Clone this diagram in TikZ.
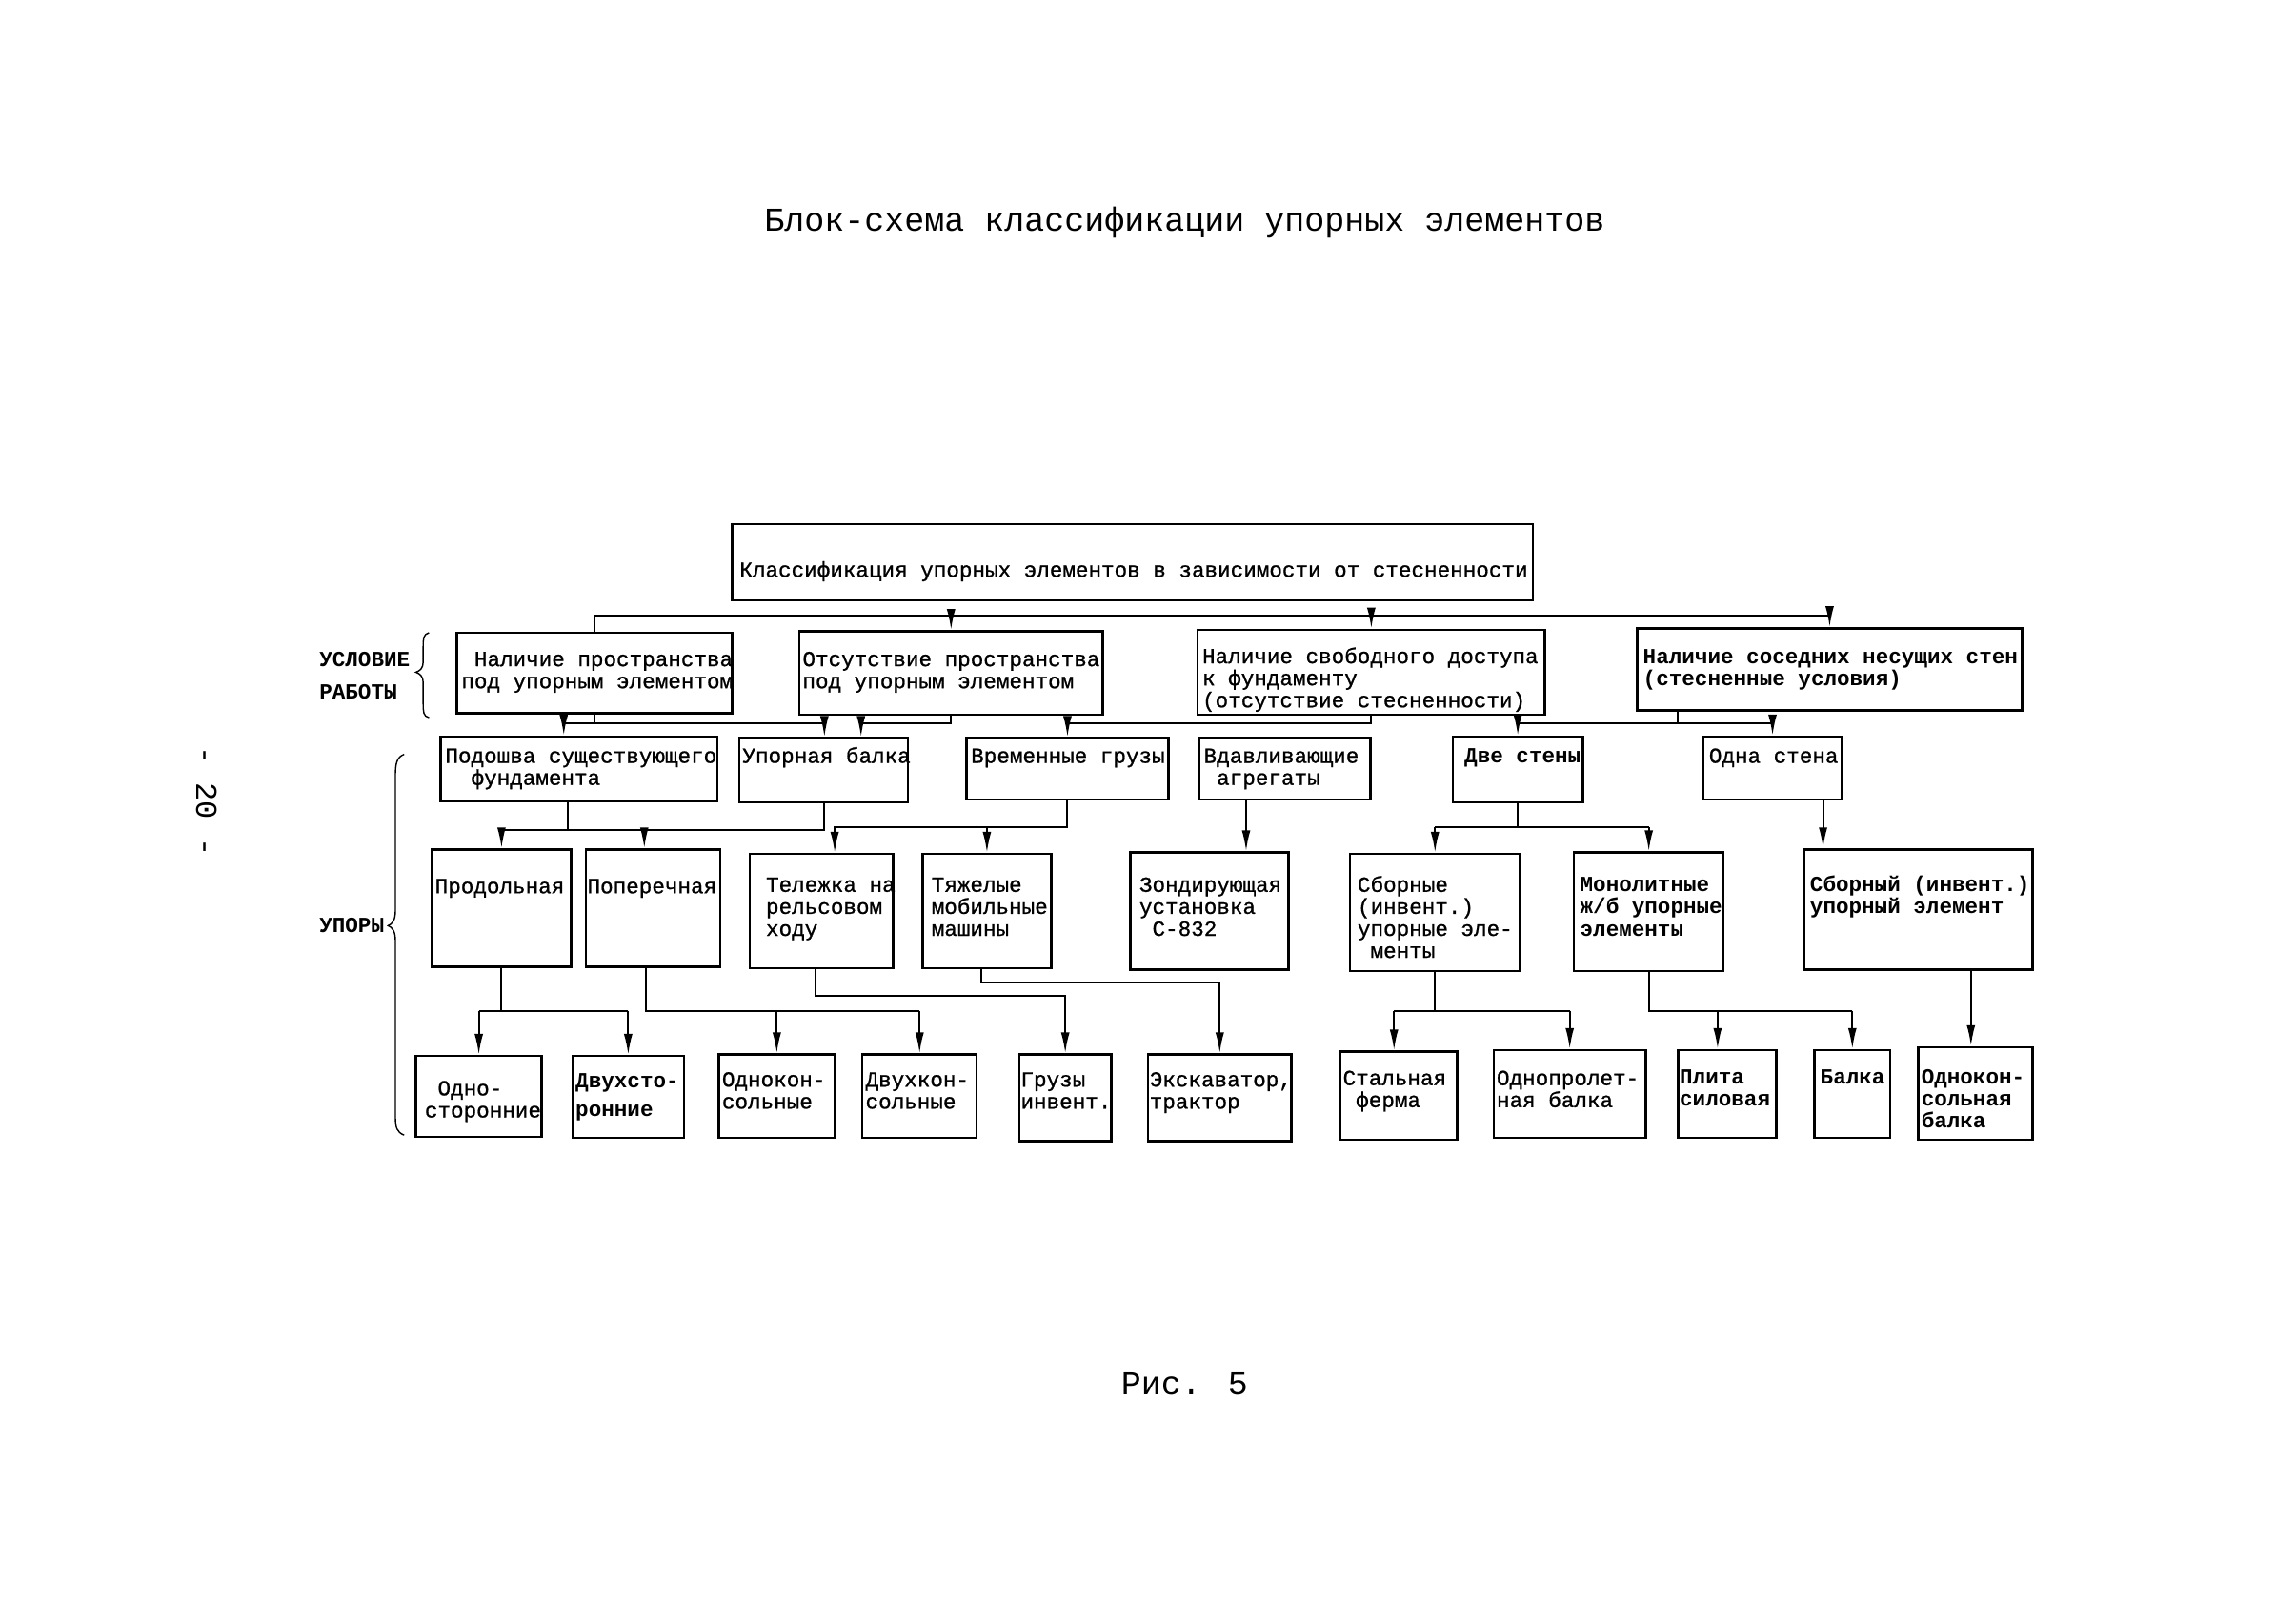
\documentclass[tikz,border=0pt]{standalone}
\usepackage{fontspec}
\newfontfamily\tw{Liberation Mono}
\newfontfamily\twm[FakeBold=0.9]{Liberation Mono}
\usetikzlibrary{fit,calc,arrows.meta}
\newcommand\mystrut{\rule{0pt}{0.8em}}
\tikzset{
 box/.style={draw, line width=2.4pt, inner sep=0pt},
 txt/.style={font=\twm\fontsize{22.6}{23.1}\selectfont, align=left, inner sep=0pt, anchor=north west, yshift=10.8pt},
 btxt/.style={txt, font=\tw\bfseries\fontsize{22.6}{23.1}\selectfont},
 conn/.style={line width=2pt},
 arr/.style={conn, -{Latex[length=22pt,width=9pt]}},
 big/.style={font=\tw\fontsize{35}{40}\selectfont, inner sep=0pt},
 brace/.style={line width=1.4pt},
}
\begin{document}
\begin{tikzpicture}[x=1.537pt, y=-1.537pt]
\fill[white] (0,0) rectangle (1568,1106);
\useasboundingbox (0,0) rectangle (1568,1106);

% titles
\node[big] (title) at (809,152) {Блок-схема классификации упорных элементов};
\node[big] (fig) at (809,945) {Рис. 5};
\node[font=\tw\fontsize{32}{36}\selectfont, rotate=-90, inner sep=0pt] (pg) at (141,547) {- 20 -};

% side labels
\node[btxt] (lab1) at (218,450) {\mystrut УСЛОВИЕ\\[11pt]РАБОТЫ};
\node[btxt] (lab2) at (218,632) {\mystrut УПОРЫ};
\draw[brace] (293,432) .. controls (289,433) and (289,436) .. (289,442) -- (289,452)
  .. controls (289,456) and (287,458) .. (284,459) .. controls (287,460) and (289,462) .. (289,466)
  -- (289,480) .. controls (289,486) and (289,489) .. (293,490);
\draw[brace] (276,515) .. controls (271,517) and (270,521) .. (270,530) -- (270,622)
  .. controls (270,628) and (268,631) .. (265,632) .. controls (268,633) and (270,636) .. (270,642)
  -- (270,762) .. controls (270,770) and (271,773) .. (276,775);

% top box
\node[box, fit={(500,358) (1047,410)}] (top) {};
\node[txt] (topt) at (505,389) {\mystrut Классификация упорных элементов в зависимости от стесненности};

% level 1
\node[box, fit={(312,432) (500,487)}] (b1) {};
\node[txt] (b1t) at (315,450) {\mystrut\hspace*{0.6em}Наличие пространства\\под упорным элементом};
\node[box, fit={(546,431) (753,488)}] (b2) {};
\node[txt] (b2t) at (548,450) {\mystrut Отсутствие пространства\\под упорным элементом};
\node[box, fit={(818,430) (1055,488)}] (b3) {};
\node[txt] (b3t) at (821,448) {\mystrut Наличие свободного доступа\\к фундаменту\\(отсутствие стесненности)};
\node[box, fit={(1118,429) (1381,485)}] (b4) {};
\node[btxt] (b4t) at (1122,448) {\mystrut Наличие соседних несущих стен\\(стесненные условия)};

% level 2
\node[box, fit={(301,503) (490,547)}] (c1) {};
\node[txt] (c1t) at (304,516) {\mystrut Подошва существующего\\\hspace*{1.2em}фундамента};
\node[box, fit={(505,504) (620,548)}] (c2) {};
\node[txt] (c2t) at (507,516) {\mystrut Упорная балка};
\node[box, fit={(660,504) (798,546)}] (c3) {};
\node[txt] (c3t) at (663,516) {\mystrut Временные грузы};
\node[box, fit={(819,504) (936,546)}] (c4) {};
\node[txt] (c4t) at (822,516) {\mystrut Вдавливающие\\\hspace*{0.6em}агрегаты};
\node[box, fit={(992,503) (1081,548)}] (c5) {};
\node[btxt] (c5t) at (1000,516) {\mystrut Две стены};
\node[box, fit={(1163,503) (1258,546)}] (c6) {};
\node[txt] (c6t) at (1167,516) {\mystrut Одна стена};

% level 3
\node[box, fit={(295,580) (390,660)}] (d1) {};
\node[txt] (d1t) at (297,605) {\mystrut Продольная};
\node[box, fit={(400,580) (492,660)}] (d2) {};
\node[txt] (d2t) at (401,605) {\mystrut Поперечная};
\node[box, fit={(512,583) (610,661)}] (d3) {};
\node[txt] (d3t) at (523,604) {\mystrut Тележка на\\рельсовом\\ходу};
\node[box, fit={(630,583) (718,661)}] (d4) {};
\node[txt] (d4t) at (636,604) {\mystrut Тяжелые\\мобильные\\машины};
\node[box, fit={(772,582) (880,662)}] (d5) {};
\node[txt] (d5t) at (778,604) {\mystrut Зондирующая\\установка\\\hspace*{0.6em}С-832};
\node[box, fit={(922,583) (1038,663)}] (d6) {};
\node[txt] (d6t) at (927,604) {\mystrut Сборные\\(инвент.)\\упорные эле-\\\hspace*{0.6em}менты};
\node[box, fit={(1075,582) (1177,663)}] (d7) {};
\node[btxt] (d7t) at (1079,604) {\mystrut Монолитные\\ж/б упорные\\элементы};
\node[box, fit={(1232,580) (1388,662)}] (d8) {};
\node[btxt] (d8t) at (1236,604) {\mystrut Сборный (инвент.)\\упорный элемент};

% level 4
\node[box, fit={(284,721) (370,776)}] (e1) {};
\node[txt] (e1t) at (290,743) {\mystrut\hspace*{0.6em}Одно-\\сторонние};
\node[box, fit={(391,721) (467,777)}] (e2) {};
\node[btxt] (e2t) at (393,738) {\mystrut Двухсто-\\[7pt]ронние};
\node[box, fit={(491,720) (570,777)}] (e3) {};
\node[txt] (e3t) at (493,737) {\mystrut Однокон-\\сольные};
\node[box, fit={(589,720) (667,777)}] (e4) {};
\node[txt] (e4t) at (591,737) {\mystrut Двухкон-\\сольные};
\node[box, fit={(696,720) (759,779)}] (e5) {};
\node[txt] (e5t) at (697,737) {\mystrut Грузы\\инвент.};
\node[box, fit={(784,720) (882,779)}] (e6) {};
\node[txt] (e6t) at (785,737) {\mystrut Экскаватор,\\трактор};
\node[box, fit={(915,718) (995,778)}] (e7) {};
\node[txt] (e7t) at (917,736) {\mystrut Стальная\\\hspace*{0.6em}ферма};
\node[box, fit={(1020,717) (1124,777)}] (e8) {};
\node[txt] (e8t) at (1022,736) {\mystrut Однопролет-\\ная балка};
\node[box, fit={(1146,717) (1213,777)}] (e9) {};
\node[btxt] (e9t) at (1147,735) {\mystrut Плита\\силовая};
\node[box, fit={(1239,717) (1291,777)}] (e10) {};
\node[btxt] (e10t) at (1243,735) {\mystrut Балка};
\node[box, fit={(1310,715) (1388,778)}] (e11) {};
\node[btxt] (e11t) at (1312,735) {\mystrut Однокон-\\сольная\\балка};

% ---------- connectors ----------
% top -> level 1
\coordinate (h1) at (0,420);
\draw[conn] (b1.north) -- (b1.north |- h1) -- (b4.north |- h1);
\draw[arr] (b2.north |- h1) -- (b2.north);
\draw[arr] (b3.north |- h1) -- (b3.north);
\draw[arr] (b4.north |- h1) -- (b4.north);

% level 1 -> level 2
\coordinate (h2) at (0,494);
\coordinate (p1) at (385,494);
\coordinate (p2) at (563,494);
\coordinate (p3) at (588,494);
\draw[conn] (b1.south) -- (b1.south |- h2);
\draw[conn] (p1) -- (p2);
\draw[arr] (p1) -- (p1 |- c1.north);
\draw[arr] (p2) -- (p2 |- c2.north);
\draw[arr] (b2.south) |- (p3) -- (p3 |- c2.north);
\draw[arr] (b3.south) |- (c3.north |- h2) -- (c3.north);
\coordinate (q4) at (1146,494);
\draw[conn] (q4 |- b4.south) -- (q4);
\draw[conn] (c5.north |- h2) -- (c6.north |- h2);
\draw[arr] (c5.north |- h2) -- (c5.north);
\draw[arr] (c6.north |- h2) -- (c6.north);

% level 2 -> level 3
\coordinate (h3) at (0,567);
\coordinate (h3b) at (0,565);
\coordinate (r1) at (388,0);
\coordinate (r2) at (440,0);
\coordinate (r3) at (570,0);
\coordinate (r4) at (851,0);
\coordinate (r6) at (1245,0);
\draw[conn] (r1 |- c1.south) -- (r1 |- h3);
\draw[conn] (d1.north |- h3) -- (c2.south |- h3) -- (c2.south);
\draw[arr] (d1.north |- h3) -- (d1.north);
\draw[arr] (r2 |- h3) -- (r2 |- d2.north);
\draw[arr] (c3.south) |- (r3 |- h3b) -- (r3 |- d3.north);
\draw[arr] (d4.north |- h3b) -- (d4.north);
\draw[arr] (r4 |- c4.south) -- (r4 |- d5.north);
\draw[conn] (c5.south) -- (c5.south |- h3b);
\draw[conn] (d6.north |- h3b) -- (d7.north |- h3b);
\draw[arr] (d6.north |- h3b) -- (d6.north);
\draw[arr] (d7.north |- h3b) -- (d7.north);
\draw[arr] (r6 |- c6.south) -- (r6 |- d8.north);

% level 3 -> level 4
\coordinate (h4) at (0,690);
\coordinate (h4b) at (0,680);
\coordinate (h4c) at (0,671);
\coordinate (s2) at (441,0);
\coordinate (s3) at (557,0);
\coordinate (s4) at (670,0);
\coordinate (s7) at (952,0);
\coordinate (s9) at (1173,0);
\coordinate (s11) at (1346,0);
\draw[conn] (d1.south) -- (d1.south |- h4);
\draw[conn] (e1.north |- h4) -- (e2.north |- h4);
\draw[arr] (e1.north |- h4) -- (e1.north);
\draw[arr] (e2.north |- h4) -- (e2.north);
\draw[conn] (s2 |- d2.south) -- (s2 |- h4) -- (e4.north |- h4);
\draw[arr] (e3.north |- h4) -- (e3.north);
\draw[arr] (e4.north |- h4) -- (e4.north);
\draw[arr] (s3 |- d3.south) -- (s3 |- h4b) -| (e5.north);
\draw[arr] (s4 |- d4.south) -- (s4 |- h4c) -| (e6.north);
\draw[conn] (d6.south) -- (d6.south |- h4);
\draw[conn] (s7 |- h4) -- (e8.north |- h4);
\draw[arr] (s7 |- h4) -- (s7 |- e7.north);
\draw[arr] (e8.north |- h4) -- (e8.north);
\draw[conn] (d7.south) -- (d7.south |- h4) -- (e10.north |- h4);
\draw[arr] (s9 |- h4) -- (s9 |- e9.north);
\draw[arr] (e10.north |- h4) -- (e10.north);
\draw[arr] (s11 |- d8.south) -- (s11 |- e11.north);
\end{tikzpicture}
\end{document}
